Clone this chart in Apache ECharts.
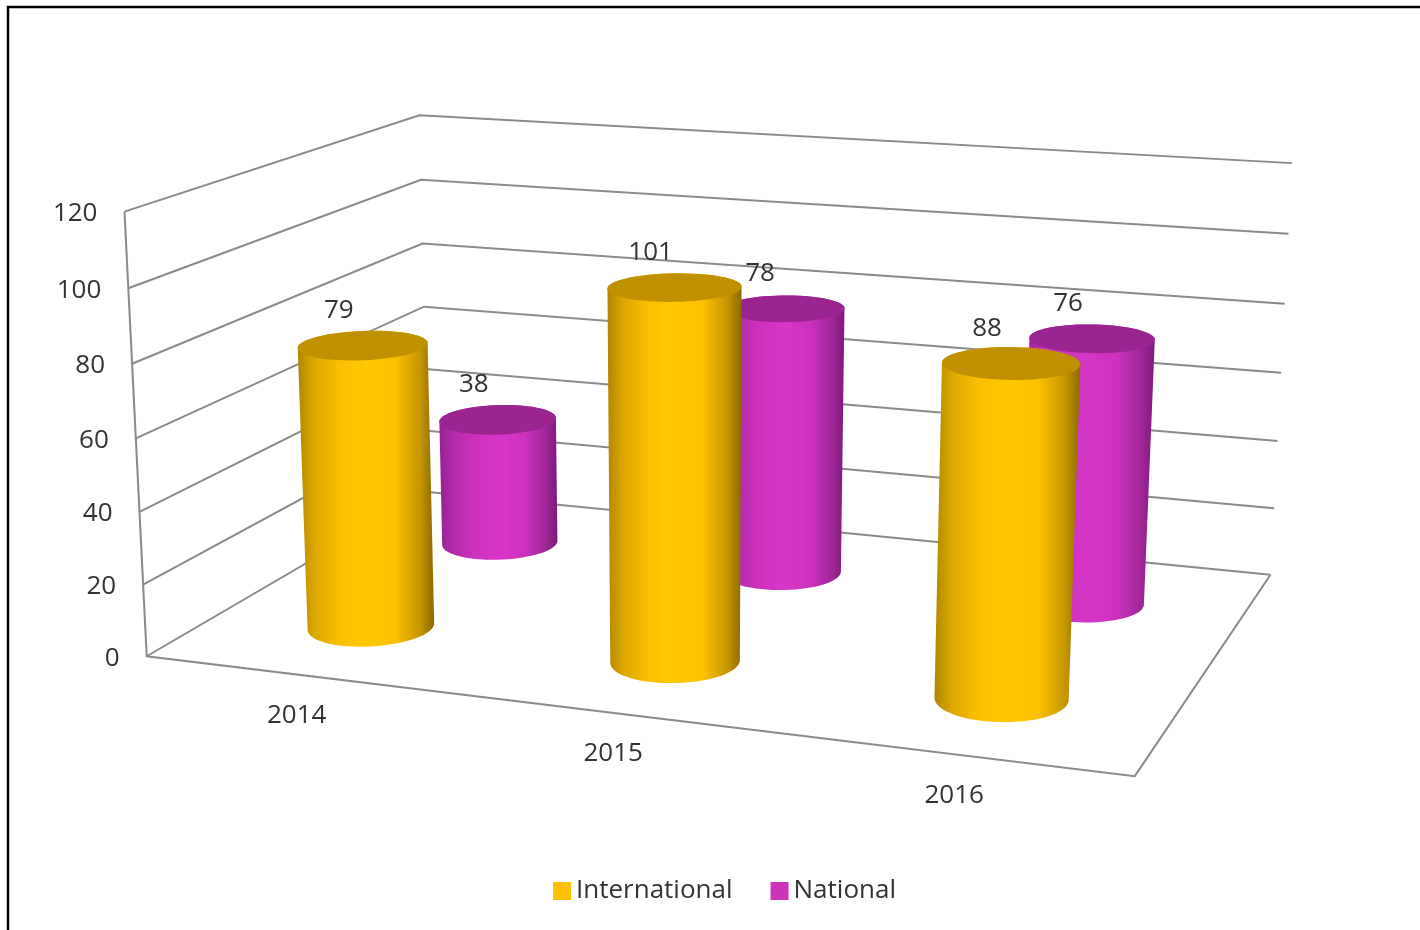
<!DOCTYPE html>
<html>
<head>
<meta charset="utf-8">
<style>html,body{margin:0;padding:0;background:#fff}#chart{width:1420px;height:930px}</style>
<script src="https://cdn.jsdelivr.net/npm/echarts@6/dist/echarts.min.js"></script>
</head>
<body>
<div id="chart"></div>
<script>
const years = ['2014', '2015', '2016'];
const international = [79, 101, 88];
const national = [38, 78, 76];
const yTicks = [0, 20, 40, 60, 80, 100, 120];

const FONT = '26px "Open Sans", sans-serif';
const TEXT = '#333333';
const LINE = '#8a8a8a';

// Camera calibration: unit box corner (across, depth, height) -> screen position
const corners = [
  [0, 0, 0, 147, 656], [1, 0, 0, 1135, 776], [1, 1, 0, 1270.5, 575], [0, 1, 0, 428, 492],
  [0, 0, 1, 124, 212], [0, 1, 1, 420, 115], [1, 1, 1, 1292, 163]
];
function solveCamera() {
  const rows = [], rhs = [];
  corners.forEach(c => {
    const [X, Y, Z] = c, x = c[3] / 1000, y = c[4] / 1000;
    rows.push([X, Y, Z, 1, 0, 0, 0, 0, -x * X, -x * Y, -x * Z]); rhs.push(x);
    rows.push([0, 0, 0, 0, X, Y, Z, 1, -y * X, -y * Y, -y * Z]); rhs.push(y);
  });
  const n = 11, A = [];
  for (let i = 0; i < n; i++) {
    A.push([]);
    for (let j = 0; j <= n; j++) {
      let s = 0;
      rows.forEach((r, k) => { s += r[i] * (j < n ? r[j] : rhs[k]); });
      A[i].push(s);
    }
  }
  for (let i = 0; i < n; i++) {
    let m = i;
    for (let k = i + 1; k < n; k++) if (Math.abs(A[k][i]) > Math.abs(A[m][i])) m = k;
    [A[i], A[m]] = [A[m], A[i]];
    for (let k = 0; k < n; k++) {
      if (k === i) continue;
      const f = A[k][i] / A[i][i];
      for (let j = i; j <= n; j++) A[k][j] -= f * A[i][j];
    }
  }
  return A.map((r, i) => r[n] / r[i]);
}
const P = solveCamera();
function project(u, d, h) {
  const w = P[8] * u + P[9] * d + P[10] * h + 1;
  return [1000 * (P[0] * u + P[1] * d + P[2] * h + P[3]) / w,
          1000 * (P[4] * u + P[5] * d + P[6] * h + P[7]) / w];
}

// Axis scales -> unit box
function unitOf(params, api, cat, val) {
  const p = api.coord([cat, val]), r = params.coordSys;
  return [(p[0] - r.x) / r.width, (r.y + r.height - p[1]) / r.height];
}

function hull(pts) {
  const a = pts.slice().sort((p, q) => p[0] - q[0] || p[1] - q[1]);
  const cross = (o, p, q) => (p[0] - o[0]) * (q[1] - o[1]) - (p[1] - o[1]) * (q[0] - o[0]);
  const lo = [], up = [];
  a.forEach(p => { while (lo.length > 1 && cross(lo[lo.length - 2], lo[lo.length - 1], p) <= 0) lo.pop(); lo.push(p); });
  a.slice().reverse().forEach(p => { while (up.length > 1 && cross(up[up.length - 2], up[up.length - 1], p) <= 0) up.pop(); up.push(p); });
  return lo.slice(0, -1).concat(up.slice(0, -1));
}

const RU = 0.0635, RD = 0.104;
function ring(u, d, h) {
  const pts = [];
  for (let i = 0; i < 64; i++) {
    const t = i / 64 * Math.PI * 2;
    pts.push(project(u + RU * Math.cos(t), d + RD * Math.sin(t), h));
  }
  return pts;
}

function cylinder(depth, stops, topColor) {
  return function (params, api) {
    const i = api.value(0), v = api.value(1);
    const uv = unitOf(params, api, i, v);
    const top = ring(uv[0], depth, uv[1]), base = ring(uv[0], depth, 0);
    const c = project(uv[0], depth, uv[1]);
    return {
      type: 'group',
      children: [
        { type: 'polygon', shape: { points: hull(top.concat(base)) },
          style: { fill: new echarts.graphic.LinearGradient(0, 0, 1, 0, stops) } },
        { type: 'polygon', shape: { points: top }, style: { fill: topColor } },
        { type: 'text', style: { text: String(v), x: c[0] - 24, y: c[1] - 35, fill: TEXT, font: FONT,
            align: 'center', verticalAlign: 'middle' } }
      ]
    };
  };
}

function frameItem(params, api) {
  const tick = api.value(1);
  const h = unitOf(params, api, 0, tick)[1];
  const a = project(0, 0, h), b = project(0, 1, h), c = project(1, 1, h);
  const children = [
    { type: 'polyline', shape: { points: [a, b, c] }, style: { stroke: LINE, lineWidth: 2, fill: 'none' } },
    { type: 'text', style: { text: String(tick), x: a[0] - 27, y: a[1] + 2, fill: TEXT, font: FONT,
        align: 'right', verticalAlign: 'middle' } }
  ];
  if (tick === 0) {
    const f = project(1, 0, 0), t = project(0, 0, 1);
    children.push({ type: 'polyline', shape: { points: [t, a, f, c] }, style: { stroke: LINE, lineWidth: 2, fill: 'none' } });
  }
  return { type: 'group', children };
}

function yearItem(params, api) {
  const i = api.value(0);
  const u = unitOf(params, api, i, 0)[0];
  const p = project(u, 0, 0);
  return { type: 'text', style: { text: years[i], x: p[0], y: p[1] + 41, fill: TEXT, font: FONT,
      align: 'center', verticalAlign: 'middle' } };
}

const goldStops = [
  { offset: 0, color: '#b08600' }, { offset: 0.12, color: '#dca800' }, { offset: 0.3, color: '#fbbf00' },
  { offset: 0.5, color: '#ffc800' }, { offset: 0.72, color: '#fbbf00' }, { offset: 0.9, color: '#c49400' },
  { offset: 1, color: '#8a6a00' }
];
const purpleStops = [
  { offset: 0, color: '#942290' }, { offset: 0.12, color: '#b42bac' }, { offset: 0.3, color: '#cc32be' },
  { offset: 0.5, color: '#d636c6' }, { offset: 0.72, color: '#cc32be' }, { offset: 0.9, color: '#a02698' },
  { offset: 1, color: '#7c1a78' }
];

const chart = echarts.init(document.getElementById('chart'));
chart.setOption({
  animation: false,
  backgroundColor: '#ffffff',
  graphic: [{ type: 'rect', z: -10, silent: true, shape: { x: 8, y: 7, width: 1500, height: 1000 },
    style: { fill: '#fff', stroke: '#000', lineWidth: 2.5 } }],
  grid: { left: 100, top: 100, width: 1200, height: 600, show: false },
  xAxis: { type: 'category', data: years, show: false },
  yAxis: { type: 'value', min: 0, max: 120, interval: 20, show: false },
  legend: {
    data: ['International', 'National'], left: 548, top: 873, itemGap: 38, itemWidth: 18, itemHeight: 18,
    icon: 'rect', selectedMode: false,
    textStyle: { fontFamily: '"Open Sans", sans-serif', fontSize: 26, color: TEXT }
  },
  series: [
    { type: 'custom', name: 'frame', clip: false, silent: true, renderItem: frameItem, z: 1,
      data: yTicks.map(t => [0, t]), encode: { x: 0, y: 1 } },
    { type: 'custom', name: 'years', clip: false, silent: true, renderItem: yearItem, z: 1,
      data: years.map((y, i) => [i, 0]), encode: { x: 0, y: 1 } },
    { type: 'custom', name: 'National', clip: false, renderItem: cylinder(0.745, purpleStops, '#9a2590'), z: 2,
      itemStyle: { color: '#cc33bb' }, data: national.map((v, i) => [i, v]), encode: { x: 0, y: 1 } },
    { type: 'custom', name: 'International', clip: false, renderItem: cylinder(0.25, goldStops, '#c09000'), z: 3,
      itemStyle: { color: '#ffc000' }, data: international.map((v, i) => [i, v]), encode: { x: 0, y: 1 } }
  ]
});
</script>
</body>
</html>
